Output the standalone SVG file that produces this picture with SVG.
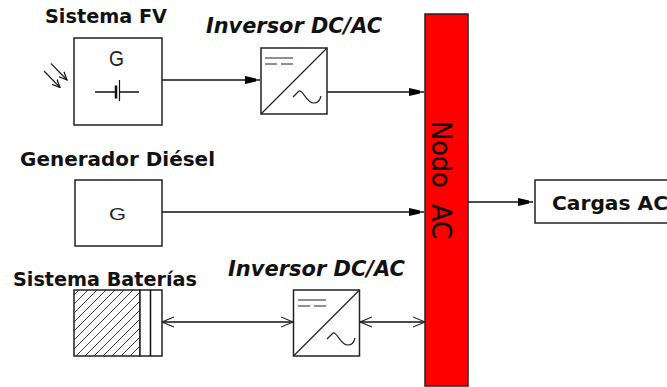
<svg xmlns="http://www.w3.org/2000/svg" width="667" height="387" viewBox="0 0 667 387">
<style>
.b{fill:#fff;stroke:#222;stroke-width:1.5}
.l{fill:none;stroke:#111;stroke-width:1.5}
.t{fill:none;stroke:#222;stroke-width:1.2}
.h{font-family:"DejaVu Sans",sans-serif;font-weight:bold;font-size:19.500px;fill:#111}
.i{font-family:"DejaVu Sans",sans-serif;font-weight:bold;font-style:italic;font-size:21px;fill:#111}
.g{font-family:"Liberation Sans",sans-serif;fill:#222}
</style>
<defs>
<pattern id="hatch" width="9" height="9" patternUnits="userSpaceOnUse">
<path d="M-1 10L10-1M-1 1L1-1M8 10L10 8" stroke="#222" stroke-width="0.900"/>
</pattern>
<marker id="fa" markerWidth="16" markerHeight="10" refX="15" refY="5" orient="auto" markerUnits="userSpaceOnUse"><path d="M0 1L11 3.500V6.500L0 9Z" fill="#000"/></marker>
<marker id="oe" markerWidth="14" markerHeight="14" refX="12" refY="7" orient="auto" markerUnits="userSpaceOnUse"><path d="M0 2L12 7L0 12" fill="none" stroke="#222" stroke-width="1.100"/></marker>
<marker id="os" markerWidth="14" markerHeight="14" refX="1" refY="7" orient="auto" markerUnits="userSpaceOnUse"><path d="M13 2L1 7L13 12" fill="none" stroke="#222" stroke-width="1.100"/></marker>
<marker id="ray" markerWidth="9" markerHeight="9" refX="8" refY="4.500" orient="auto" markerUnits="userSpaceOnUse"><path d="M0 1L8 4.500L0 8" fill="none" stroke="#111" stroke-width="1.200"/></marker>
</defs>
<g id="connectors">
<path class="l" d="M162 80H260" marker-end="url(#fa)"/>
<path class="l" d="M327 92H424" marker-end="url(#fa)"/>
<path class="l" d="M162 212H424" marker-end="url(#fa)"/>
<path class="l" d="M468 202H533" marker-end="url(#fa)"/>
<path class="l" d="M162 322H293" marker-start="url(#os)" marker-end="url(#oe)"/>
<path class="l" d="M360 322H425" marker-start="url(#os)" marker-end="url(#oe)"/>
</g>
<g id="sistema-fv">
<text class="h" x="45" y="23" textLength="122" lengthAdjust="spacingAndGlyphs">Sistema FV</text>
<rect class="b" x="74" y="38" width="88" height="87"/>
<text class="g" x="109" y="66" font-size="22" textLength="15" lengthAdjust="spacingAndGlyphs">G</text>
<path class="l" d="M95 92H116M119 92H139"/>
<path d="M116 85.500V98.500" stroke="#111" stroke-width="2.500"/>
<path d="M119.500 80V101" stroke="#111" stroke-width="1.200"/>
<path class="t" d="M51 63.500L67 80" marker-end="url(#ray)"/>
<path class="t" d="M44 71L60 87.500" marker-end="url(#ray)"/>
</g>
<g id="inversor-1">
<text class="i" x="206" y="33" textLength="176" lengthAdjust="spacingAndGlyphs">Inversor DC/AC</text>
<rect class="b" x="261" y="48" width="66" height="66"/>
<path class="t" d="M261 114L327 48M265 58H293M265 64H277M281 64H293"/>
<path class="t" d="M293 97L299 91C303 89 306 103 314 103C318 103 320 100 321 96"/>
</g>
<g id="generador-diesel">
<text class="h" x="20" y="166" textLength="195" lengthAdjust="spacingAndGlyphs">Generador Diésel</text>
<rect class="b" x="75" y="180" width="87" height="66"/>
<text class="g" x="109" y="220" font-size="17" textLength="17" lengthAdjust="spacingAndGlyphs">G</text>
</g>
<g id="sistema-baterias">
<text class="h" x="13" y="286" textLength="184" lengthAdjust="spacingAndGlyphs">Sistema Baterías</text>
<rect x="74" y="290" width="66" height="66" fill="url(#hatch)" stroke="#222" stroke-width="1.500"/>
<rect class="b" x="140" y="290" width="22" height="66"/>
<path class="l" d="M150.500 290V356"/>
</g>
<g id="inversor-2">
<text class="i" x="228" y="276" textLength="177" lengthAdjust="spacingAndGlyphs">Inversor DC/AC</text>
<rect class="b" x="293.500" y="290" width="66" height="66"/>
<path class="t" d="M293.500 356L359.500 290M298 300H326M298 306H310M314 306H326"/>
<path class="t" d="M327 339L333 333C337 331 340 345 348 345C352 345 354 342 355 338"/>
</g>
<g id="nodo-ac">
<rect x="425" y="14" width="43" height="372" fill="#f00" stroke="#222" stroke-width="1.500"/>
<text x="0" y="0" transform="translate(432 121) rotate(90)" font-family="DejaVu Sans, sans-serif" font-size="26" fill="#111" stroke="#111" stroke-width="0.300" xml:space="preserve" textLength="118" lengthAdjust="spacingAndGlyphs">Nodo  AC</text>
</g>
<g id="cargas-ac">
<rect class="b" x="535" y="180" width="140" height="43"/>
<text class="h" x="552" y="210" textLength="116" lengthAdjust="spacingAndGlyphs">Cargas AC</text>
</g>
</svg>
